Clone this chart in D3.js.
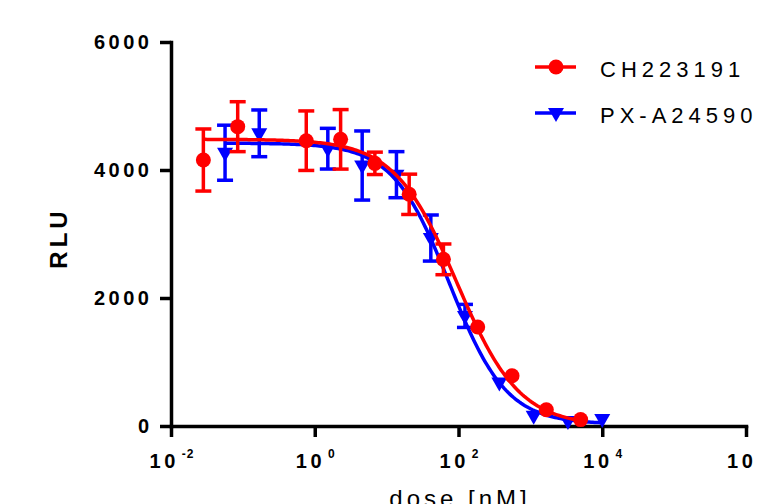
<!DOCTYPE html>
<html><head><meta charset="utf-8">
<script src="https://cdn.jsdelivr.net/npm/d3@7"></script>
<style>body{margin:0;background:#fff}svg{display:block}</style>
</head><body>
<svg id="chart" width="758" height="504"></svg>
<script>
// ---- data ----
const seriesNames = ["CH223191", "PX-A24590"];
const seriesColors = ["#ff0000", "#0000ff"];
const doseCH = [0.0282, 0.0847, 0.762, 2.29, 6.86, 20.6, 61.7, 185, 556, 1667, 5000];
const rluCH  = [4156, 4677, 4458, 4479, 4104, 3620, 2604, 1547, 786, 255, 100];
const errCH  = [485, 390, 465, 465, 175, 315, 240, 0, 0, 0, 0];
const dosePX = [0.0565, 0.169, 1.52, 4.57, 13.7, 41.2, 123, 370, 1111, 3333, 10000];
const rluPX  = [4270, 4573, 4333, 4070, 3927, 2937, 1720, 680, 160, 78, 110];
const errPX  = [430, 365, 318, 540, 360, 360, 180, 0, 0, 0, 0];
// 4-parameter logistic fit parameters [CH223191, PX-A24590]
const fitTop    = [4480, 4420];
const fitBottom = [0, 30];
const fitIC50   = [95, 75];
const fitHill   = [1.0, 1.1];
const xTicks = [1e-2, 1e0, 1e2, 1e4, 1e6];
const xTickExp = ["-2", "0", "2", "4", "6"];
const yTicks = [0, 2000, 4000, 6000];

const series = [
  {name: seriesNames[0], color: seriesColors[0], dose: doseCH, rlu: rluCH, err: errCH, i: 0, marker: "circle"},
  {name: seriesNames[1], color: seriesColors[1], dose: dosePX, rlu: rluPX, err: errPX, i: 1, marker: "triangle"}
];

const svg = d3.select("#chart");
const FONT = "'Liberation Sans', Arial, Helvetica, sans-serif";
const x = d3.scaleLog().domain([1e-2, 1e6]).range([171, 746]);
const y = d3.scaleLinear().domain([0, 6000]).range([426, 42]);

// axes
const xAxis = svg.append("g").attr("transform", "translate(0,426)")
  .call(d3.axisBottom(x).tickValues(xTicks).tickSize(11).tickSizeOuter(0).tickFormat(""));
const yAxis = svg.append("g").attr("transform", "translate(171,0)")
  .call(d3.axisLeft(y).tickValues(yTicks).tickSize(11).tickSizeOuter(0).tickFormat(""));
[xAxis, yAxis].forEach(g => {
  g.select(".domain").attr("stroke", "#000").attr("stroke-width", 3.5).attr("stroke-linecap", "square");
  g.selectAll(".tick line").attr("stroke", "#000").attr("stroke-width", 3.5);
});

// y tick labels
svg.append("g").selectAll("text").data(yTicks).join("text")
  .attr("x", 152.5).attr("y", d => y(d)).attr("dy", "0.36em")
  .attr("text-anchor", "end")
  .style("font-family", FONT).style("font-size", "20px").style("font-weight", "bold")
  .style("letter-spacing", "3.5px").attr("fill", "#000")
  .text(d => d3.format("d")(d));

// x tick labels: 10 with superscript exponent
const xl = svg.append("g").selectAll("text").data(xTicks).join("text")
  .attr("x", (d) => x(d) + 1).attr("y", 468)
  .attr("text-anchor", "middle")
  .style("font-family", FONT).style("font-weight", "bold").attr("fill", "#000");
xl.append("tspan").style("font-size", "20px").style("letter-spacing", "3.5px").text("10");
xl.append("tspan").attr("dx", 3).attr("dy", -10).style("font-size", "12px").style("letter-spacing", "1px")
  .text((d, i) => xTickExp[i]);

// axis titles
svg.append("text").attr("transform", "translate(67,238) rotate(-90)")
  .attr("text-anchor", "middle")
  .style("font-family", FONT).style("font-size", "24px").style("font-weight", "bold")
  .style("letter-spacing", "4px").attr("fill", "#000").text("RLU");
svg.append("text").attr("x", 460).attr("y", 507)
  .attr("text-anchor", "middle")
  .style("font-family", FONT).style("font-size", "24px")
  .style("letter-spacing", "4px").attr("fill", "#000").text("dose [nM]");

// markers
const triPath = "M-8,-5L8,-5L0,9Z";
function drawMarker(g, s, cx, cy) {
  if (s.marker === "circle") {
    g.append("circle").attr("cx", cx).attr("cy", cy).attr("r", 7.5).attr("fill", s.color);
  } else {
    g.append("path").attr("d", triPath).attr("transform", `translate(${cx},${cy})`).attr("fill", s.color);
  }
}

// draw series: blue first, red on top
[series[1], series[0]].forEach(s => {
  const g = svg.append("g");
  // fitted 4PL curve
  const lo = Math.log10(d3.min(s.dose)), hi = Math.log10(d3.max(s.dose));
  const pts = d3.range(0, 201).map(k => {
    const d = Math.pow(10, lo + (hi - lo) * k / 200);
    const v = fitBottom[s.i] + (fitTop[s.i] - fitBottom[s.i]) / (1 + Math.pow(d / fitIC50[s.i], fitHill[s.i]));
    return [d, v];
  });
  g.append("path").datum(pts)
    .attr("d", d3.line().x(p => x(p[0])).y(p => y(p[1])))
    .attr("fill", "none").attr("stroke", s.color).attr("stroke-width", 3.5);
  // error bars
  s.dose.forEach((d, k) => {
    const e = s.err[k];
    if (e <= 0) return;
    const cx = x(d), y1 = y(s.rlu[k] + e), y2 = y(s.rlu[k] - e);
    g.append("line").attr("x1", cx).attr("x2", cx).attr("y1", y1).attr("y2", y2)
      .attr("stroke", s.color).attr("stroke-width", 3.5);
    [y1, y2].forEach(yy => g.append("line").attr("x1", cx - 8).attr("x2", cx + 8)
      .attr("y1", yy).attr("y2", yy).attr("stroke", s.color).attr("stroke-width", 3.5));
  });
  // points
  s.dose.forEach((d, k) => drawMarker(g, s, x(d), y(s.rlu[k])));
});

// legend
series.forEach((s, k) => {
  const ly = k === 0 ? 67 : 113;
  const g = svg.append("g");
  g.append("line").attr("x1", 535).attr("x2", 576).attr("y1", ly).attr("y2", ly)
    .attr("stroke", s.color).attr("stroke-width", 3.5);
  drawMarker(g, s, 556, ly);
  g.append("text").attr("x", 600).attr("y", ly + 10)
    .style("font-family", FONT).style("font-size", "22px")
    .style("letter-spacing", "5px").attr("fill", "#000").text(s.name);
});
</script>
</body></html>
